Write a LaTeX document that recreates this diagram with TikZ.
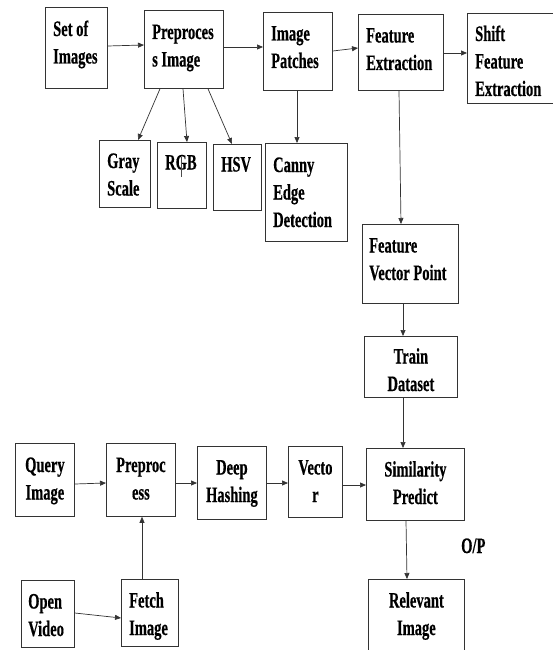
\documentclass[tikz,border=0pt]{standalone}
\usepackage{fontspec}
\setmainfont{Liberation Serif}[BoldFeatures={FakeBold=0.6}]
\usetikzlibrary{arrows.meta,calc}
\tikzset{
  box/.style={draw=black!80, line width=0.8pt, rectangle, inner sep=0pt, anchor=north west, fill=none},
  arr/.style={draw=black!80, line width=0.7pt, -{Triangle[length=6pt,width=5pt]}},
  lbl/.style={inner sep=0pt, font=\fontsize{22pt}{27.5pt}\selectfont\bfseries}
}
\newcommand{\LT}[1]{\scalebox{0.66}[1]{\begin{tabular}[t]{@{}l@{}}#1\end{tabular}}}
\newcommand{\CT}[1]{\scalebox{0.66}[1]{\begin{tabular}[t]{@{}c@{}}#1\end{tabular}}}
\newcommand{\mybox}[5]{\node[box, minimum width=#4pt-#2pt, minimum height=#5pt-#3pt] (#1) at (#2,#3) {};}
\begin{document}
\begin{tikzpicture}[x=1pt,y=-1pt]
\fill[white] (0,0) rectangle (552,650);
\useasboundingbox (0,0) rectangle (552,650);
\renewcommand{\arraystretch}{1}
% boxes
\mybox{soi}{45}{7}{107}{88}
\mybox{pre}{144}{10}{223}{88}
\mybox{ip}{263}{12}{332}{90}
\mybox{fe}{358}{14}{443}{90}
\mybox{sfe}{467}{13}{558}{103}
\mybox{gs}{99}{140}{150}{207}
\mybox{rgb}{157}{142}{206}{208}
\mybox{hsv}{213}{144}{261}{210}
\mybox{ced}{265}{143}{347}{241}
\mybox{fvp}{362}{224}{458}{303}
\mybox{td}{364}{336}{457}{397}
\mybox{sp}{366}{448}{464}{520}
\mybox{vec}{288}{446}{342}{517}
\mybox{ri}{368}{579}{464}{658}
\mybox{qi}{15}{443}{74}{516}
\mybox{pp}{106}{443}{175}{516}
\mybox{dh}{197}{446}{266}{519}
\mybox{ov}{21}{580}{74}{647}
\mybox{fi}{121}{579}{178}{646}
% texts (left aligned)
\node[lbl, anchor=base west] (soi-t) at ($(soi.north west)+(8,29)$) {\LT{Set of\\Images}};
\node[lbl, anchor=base west] (pre-t) at ($(pre.north west)+(8,29)$) {\LT{Preproces\\s Image}};
\node[lbl, anchor=base west] (ip-t) at ($(ip.north west)+(8,28.5)$) {\LT{Image\\Patches}};
\node[lbl, anchor=base west] (fe-t) at ($(fe.north west)+(8,28.5)$) {\LT{Feature\\Extraction}};
\node[lbl, anchor=base west] (sfe-t) at ($(sfe.north west)+(8,28)$) {\LT{Shift\\Feature\\Extraction}};
\node[lbl, anchor=base west] (gs-t) at ($(gs.north west)+(8,28)$) {\LT{Gray\\Scale}};
\node[lbl, anchor=base west] (rgb-t) at ($(rgb.north west)+(8,27.5)$) {\LT{RGB}};
\node[lbl, anchor=base west] (hsv-t) at ($(hsv.north west)+(8,27.5)$) {\LT{HSV}};
\node[lbl, anchor=base west] (ced-t) at ($(ced.north west)+(8,29)$) {\LT{Canny\\Edge\\Detection}};
\node[lbl, anchor=base west] (fvp-t) at ($(fvp.north west)+(7,28.5)$) {\LT{Feature\\Vector Point}};
\node[lbl, anchor=base west] (ov-t) at ($(ov.north west)+(7,28.5)$) {\LT{Open\\Video}};
\node[lbl, anchor=base west] (fi-t) at ($(fi.north west)+(8,28.5)$) {\LT{Fetch\\Image}};
% texts (centered)
\node[lbl, anchor=base] (td-t) at ($(td.north)+(0,27.5)$) {\CT{Train\\Dataset}};
\node[lbl, anchor=base] (sp-t) at ($(sp.north)+(0,28.5)$) {\CT{Similarity\\Predict}};
\node[lbl, anchor=base] (vec-t) at ($(vec.north)+(0,28.5)$) {\CT{Vecto\\r}};
\node[lbl, anchor=base] (ri-t) at ($(ri.north)+(0,28.5)$) {\CT{Relevant\\Image}};
\node[lbl, anchor=base] (qi-t) at ($(qi.north)+(0,29)$) {\CT{Query\\Image}};
\node[lbl, anchor=base] (pp-t) at ($(pp.north)+(0,29)$) {\CT{Preproc\\ess}};
\node[lbl, anchor=base] (dh-t) at ($(dh.north)+(0,28.5)$) {\CT{Deep\\Hashing}};
\node[lbl, anchor=base west] (op) at (461,553) {\LT{O/P}};
% small tick on RGB
\draw[black!70, line width=0.6pt] (181,157) -- (181,177);
% connectors
\draw[arr] (soi.east |- 0,46) -- (pre.west |- 0,45);
\draw[arr] (pre.east |- 0,47) -- (ip.west |- 0,47);
\draw[arr] (ip.east |- 0,51) -- (fe.west |- 0,48);
\draw[arr] (fe.east |- 0,53) -- (sfe.west |- 0,53);
\draw[arr] (pre.south -| 160,0) -- (gs.north -| 138,0);
\draw[arr] (pre.south -| 183,0) -- (rgb.north -| 187,0);
\draw[arr] (pre.south -| 208,0) -- (hsv.north -| 232,0);
\draw[arr] (ip.south -| 297,0) -- (ced.north -| 297,0);
\draw[arr] (fe.south -| 399,0) -- (fvp.north -| 401,0);
\draw[arr] (fvp.south -| 403,0) -- (td.north -| 403,0);
\draw[arr] (td.south -| 403,0) -- (sp.north -| 403,0);
\draw[arr] (qi.east |- 0,484) -- (pp.west |- 0,483);
\draw[arr] (pp.east |- 0,483) -- (dh.west |- 0,483);
\draw[arr] (dh.east |- 0,483) -- (vec.west |- 0,483);
\draw[arr] (vec.east |- 0,485) -- (sp.west |- 0,485);
\draw[arr] (fi.north -| 142,0) -- (pp.south -| 142,0);
\draw[arr] (ov.east |- 0,613) -- (fi.west |- 0,618);
\draw[arr] (sp.south -| 406,0) -- (ri.north -| 407,0);
\end{tikzpicture}
\end{document}
